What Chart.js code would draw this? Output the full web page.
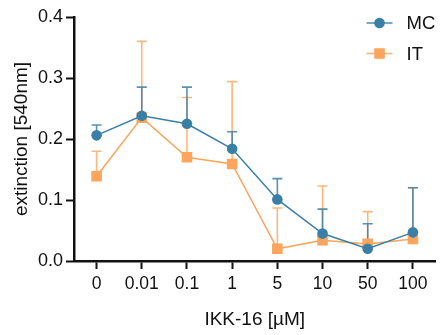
<!DOCTYPE html>
<html>
<head>
<meta charset="utf-8">
<script src="https://cdn.jsdelivr.net/npm/chart.js@4/dist/chart.umd.min.js"></script>
<style>
  html, body { margin: 0; padding: 0; background: #fff; }
  #wrap { width: 443px; height: 335px; }
</style>
</head>
<body>
<div id="wrap"><canvas id="chart" width="443" height="335"></canvas></div>
<script>
const doses = ["0", "0.01", "0.1", "1", "5", "10", "50", "100"];
const mcMean = [0.206, 0.238, 0.225, 0.184, 0.101, 0.045, 0.020, 0.047];
const mcErr = [0.017, 0.047, 0.060, 0.028, 0.034, 0.040, 0.041, 0.073];
const itMean = [0.139, 0.235, 0.170, 0.159, 0.020, 0.034, 0.028, 0.036];
const itErr = [0.041, 0.125, 0.098, 0.135, 0.067, 0.089, 0.053, 0.084];
const yTicks = [0, 0.1, 0.2, 0.3, 0.4];

const BLUE = "rgb(58, 127, 166)";
const ORANGE = "rgb(253, 165, 92)";
const FONT = "'Liberation Sans', Arial, sans-serif";

// upward error bars with caps, drawn under the markers
const errorBars = {
  id: "errorBars",
  beforeDatasetsDraw(chart) {
    const ctx = chart.ctx;
    const x = chart.scales.x;
    const y = chart.scales.y;
    // draw IT first, then MC on top
    for (let d = chart.data.datasets.length - 1; d >= 0; d--) {
      const ds = chart.data.datasets[d];
      ctx.save();
      ctx.strokeStyle = ds.errColor;
      ctx.lineWidth = 1.6;
      ds.data.forEach((v, i) => {
        const px = x.getPixelForValue(i);
        const y0 = y.getPixelForValue(v);
        const y1 = y.getPixelForValue(v + ds.err[i]);
        ctx.beginPath();
        ctx.moveTo(px, y0);
        ctx.lineTo(px, y1);
        ctx.moveTo(px - 5, y1);
        ctx.lineTo(px + 5, y1);
        ctx.stroke();
      });
      ctx.restore();
    }
  },
};

// legend inside the plot, top right
const cornerLegend = {
  id: "cornerLegend",
  afterDraw(chart) {
    const ctx = chart.ctx;
    const right = chart.chartArea.right;
    chart.data.datasets.forEach((ds, i) => {
      const cy = 23 + i * 30.5;
      const x0 = right - 69;
      ctx.save();
      ctx.strokeStyle = ds.errColor;
      ctx.lineWidth = 1.6;
      ctx.beginPath();
      ctx.moveTo(x0, cy);
      ctx.lineTo(x0 + 26, cy);
      ctx.stroke();
      ctx.fillStyle = ds.borderColor;
      if (ds.pointStyle === "rect") {
        ctx.fillRect(x0 + 13 - 5.3, cy - 5.3, 10.6, 10.6);
      } else {
        ctx.beginPath();
        ctx.arc(x0 + 13, cy, 5.3, 0, Math.PI * 2);
        ctx.fill();
      }
      ctx.fillStyle = "#111";
      ctx.font = "18.5px " + FONT;
      ctx.textBaseline = "middle";
      ctx.textAlign = "left";
      ctx.fillText(ds.label, x0 + 40, cy + 1);
      ctx.restore();
    });
  },
};

new Chart(document.getElementById("chart").getContext("2d"), {
  type: "line",
  data: {
    labels: doses,
    datasets: [
      {
        label: "MC",
        data: mcMean,
        err: mcErr,
        errColor: "rgba(58, 127, 166, 0.85)",
        borderColor: BLUE,
        backgroundColor: BLUE,
        borderWidth: 1.5,
        pointStyle: "circle",
        pointRadius: 5.3,
        pointBorderWidth: 0,
        pointBackgroundColor: BLUE,
        tension: 0,
      },
      {
        label: "IT",
        data: itMean,
        err: itErr,
        errColor: "rgba(253, 165, 92, 0.8)",
        borderColor: ORANGE,
        backgroundColor: ORANGE,
        borderWidth: 1.5,
        pointStyle: "rect",
        pointRadius: 7.5,
        pointBorderWidth: 0,
        pointBackgroundColor: ORANGE,
        tension: 0,
      },
    ],
  },
  options: {
    responsive: false,
    animation: false,
    devicePixelRatio: 1,
    layout: { padding: { top: 17, right: 2, left: 0, bottom: 0 } },
    plugins: {
      legend: { display: false },
      tooltip: { enabled: false },
    },
    scales: {
      x: {
        type: "category",
        offset: true,
        grid: {
          display: true,
          offset: false,
          drawOnChartArea: false,
          drawTicks: true,
          tickLength: 8,
          tickWidth: 2,
          tickColor: "#111",
        },
        border: { display: true, color: "#111", width: 2.5 },
        ticks: {
          color: "#111",
          padding: 5,
          maxRotation: 0,
          autoSkip: false,
          font: { family: FONT, size: 17.5 },
        },
        title: {
          display: true,
          text: "IKK-16 [µM]",
          color: "#111",
          padding: { top: 0, bottom: 4 },
          font: { family: FONT, size: 19 },
        },
        afterFit(scale) {
          scale.height = 74;
        },
      },
      y: {
        min: 0,
        max: 0.4,
        afterBuildTicks(scale) {
          scale.ticks = yTicks.map((v) => ({ value: v }));
        },
        grid: {
          display: true,
          drawOnChartArea: false,
          drawTicks: true,
          tickLength: 8,
          tickWidth: 2,
          tickColor: "#111",
        },
        border: { display: true, color: "#111", width: 2.5 },
        ticks: {
          color: "#111",
          padding: 3,
          font: { family: FONT, size: 18 },
          callback: (v) => Number(v).toFixed(1),
        },
        title: {
          display: true,
          text: "extinction [540nm]",
          color: "#111",
          padding: { top: 10, bottom: 0 },
          font: { family: FONT, size: 19 },
        },
        afterFit(scale) {
          scale.width = 74;
        },
      },
    },
  },
  plugins: [errorBars, cornerLegend],
});
</script>
</body>
</html>
